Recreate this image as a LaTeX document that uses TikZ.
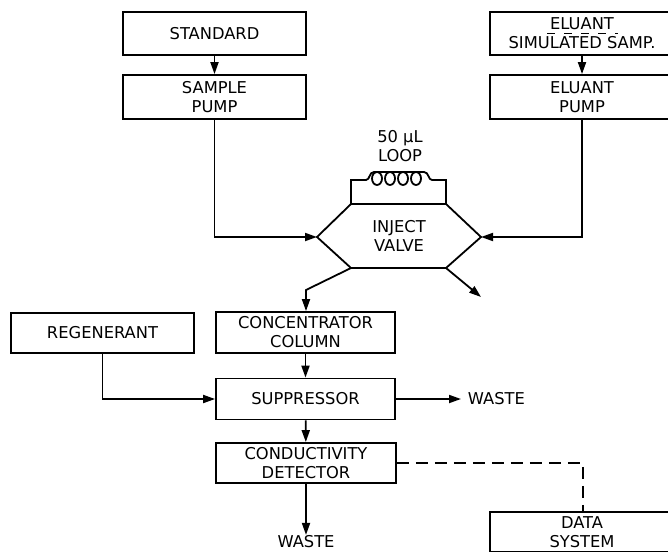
\documentclass[tikz,border=0pt]{standalone}
\usepackage{fontspec}
\setmainfont{DejaVu Sans}
\usetikzlibrary{arrows.meta,calc}
\begin{document}
\begin{tikzpicture}[x=1pt,y=-1pt,
  line width=1.8pt, line join=miter,
  box/.style={draw, rectangle, inner sep=0pt, align=center, font=\fontsize{16.3}{19}\selectfont},
  lbl/.style={inner sep=0pt, align=center, font=\fontsize{16.3}{19}\selectfont},
  arr/.style={-{Triangle[length=12pt,width=8pt]}}]
\useasboundingbox (0,0) rectangle (668,551);
\clip (0,0) rectangle (668,551);
% boxes
\node[box, minimum width=183pt, minimum height=43pt] (std) at (214.5,33.5) {STANDARD};
\node[box, minimum width=183pt, minimum height=44pt] (spump) at (214.5,97) {SAMPLE\\PUMP};
\node[box, minimum width=184pt, minimum height=43pt] (elu) at (582,33.5) {ELUANT\\SIMULATED SAMP.};
\node[box, minimum width=184pt, minimum height=44pt] (epump) at (582,97) {ELUANT\\PUMP};
\node[box, minimum width=183pt, minimum height=40pt] (regen) at (102.5,333) {REGENERANT};
\node[box, minimum width=179pt, minimum height=41pt] (conc) at (305.5,332.5) {CONCENTRATOR\\COLUMN};
\node[box, minimum width=179pt, minimum height=41pt] (supp) at (305.5,399) {SUPPRESSOR};
\node[box, minimum width=180pt, minimum height=40pt] (det) at (306,463) {CONDUCTIVITY\\DETECTOR};
\node[box, minimum width=184pt, minimum height=40pt] (data) at (582,532) {DATA\\SYSTEM};
\node[lbl, anchor=west, inner xsep=6pt] (waste1) at (461,399) {WASTE};
\node[lbl] (waste2) at (306,542) {WASTE};
% dashed underline in eluant box
\draw[line width=1pt, dash pattern=on 8pt off 9pt] (547,34) -- (618,34);
% inject valve
\coordinate (vTL) at (351,204);
\coordinate (vTR) at (446,204);
\coordinate (vL) at (317,237);
\coordinate (vR) at (481,237);
\coordinate (vBL) at (351,268);
\coordinate (vBR) at (446,268);
\draw (vTL) -- (vTR) -- (vR) -- (vBR) -- (vBL) -- (vL) -- cycle;
\node[lbl] (valve) at (399,236) {INJECT\\VALVE};
% loop
\coordinate (lL) at (351,180);
\coordinate (lR) at (446,180);
\draw (vTL) -- (lL) -- (366,180) .. controls (370,180) and (369,172) .. (374,172)
  -- (424,172) .. controls (429,172) and (428,180) .. (432,180) -- (lR) -- (vTR);
\foreach \cx in {377,390,403,416} \draw (\cx,178.5) ellipse [x radius=5pt, y radius=6.5pt];
\node[lbl] (looplbl) at (400,146) {50 µL\\LOOP};
% connectors
\draw[arr] (std) -- (spump);
\draw[arr] (elu.south -| epump.north) -- (epump.north);
\draw[arr] (spump.south) |- (vL);
\draw[arr] (epump.south) |- (vR);
\coordinate (vo1) at (306,290);
\draw[arr] (vBL) -- (vo1) -- (conc.north -| vo1);
\coordinate (vo2) at (481,297);
\draw[arr] (vBR) -- (vo2);
\draw[arr] (conc) -- (supp);
\draw[arr] (regen.south) |- (supp.west);
\draw[arr] (supp.east) -- (waste1.west);
\draw[arr] (supp) -- (det);
\draw[arr] (det.south) -- (waste2.north);
\coordinate (dc) at (583,463);
\draw[dash pattern=on 12pt off 7pt] (det.east) -- (dc) -- (dc |- data.north);
\end{tikzpicture}
\end{document}
